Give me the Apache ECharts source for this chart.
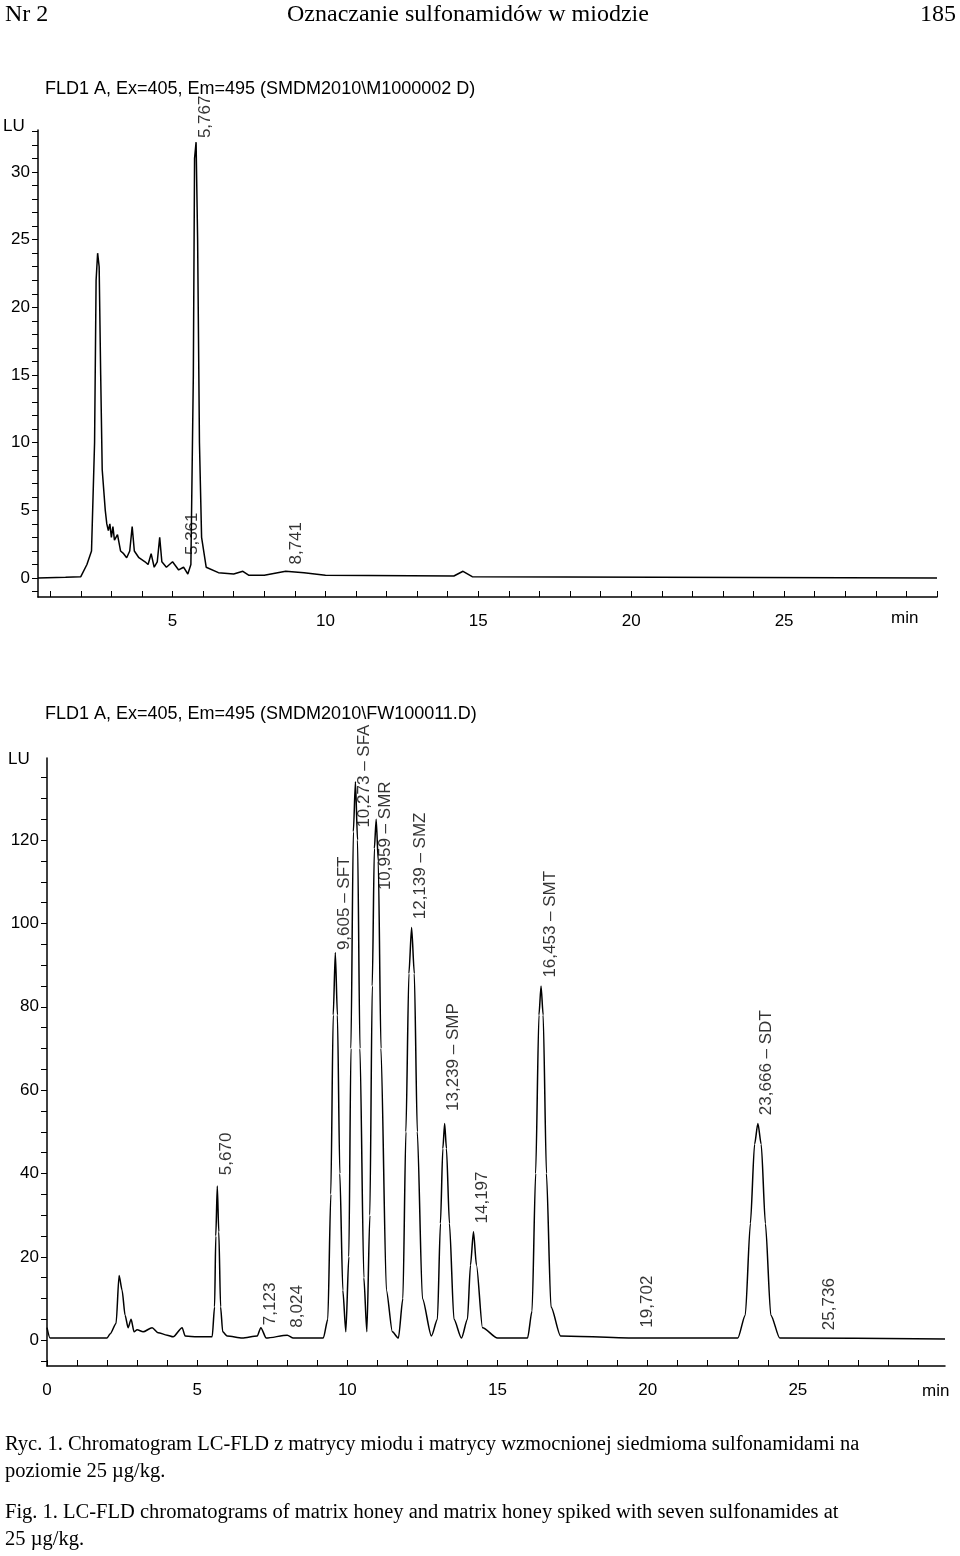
<!DOCTYPE html>
<html><head><meta charset="utf-8">
<script src="https://cdn.jsdelivr.net/npm/echarts@6/dist/echarts.min.js"></script>
<style>body{margin:0;background:#fff}#c{width:960px;height:1556px}</style>
</head><body><div id="c"></div>
<script>
// Top chromatogram: matrix honey [time min, LU]
const trace1 = [[0.6,0],[1.5,0.05],[2.0,0.1],[2.2,1],[2.35,2],[2.45,10],[2.5,22],[2.55,24],[2.6,23],[2.65,15],[2.7,8],[2.8,5],[2.85,4],[2.9,3.5],[2.95,4],[3.0,3],[3.05,3.8],[3.1,2.8],[3.2,3.2],[3.3,2],[3.4,1.8],[3.5,1.5],[3.6,2],[3.68,3.8],[3.75,2],[3.9,1.5],[4.1,1.2],[4.2,1],[4.3,1.8],[4.4,0.8],[4.5,1.2],[4.58,3],[4.65,1.2],[4.8,0.8],[5.0,1.2],[5.2,0.6],[5.36,0.8],[5.5,0.3],[5.6,1],[5.68,15],[5.72,31],[5.77,32.2],[5.82,25],[5.88,10],[5.95,3],[6.1,0.8],[6.5,0.4],[7.0,0.3],[7.3,0.5],[7.5,0.2],[8.0,0.2],[8.7,0.5],[9.3,0.4],[10,0.2],[14.2,0.15],[14.5,0.5],[14.8,0.1],[30,0]];
const labels1 = ['5,361','5,767','8,741'];
const labelT1 = [5.361,5.767,8.741];
const labelY1 = [1.7,32.5,1.0];
// Bottom chromatogram: spiked honey
const trace2 = [[0,3],[0.1,0.5],[2,0.5],[2.1,1.5],[2.3,4],[2.4,15.5],[2.5,12],[2.6,6],[2.7,3],[2.8,5],[2.9,2],[3.0,2.5],[3.2,2],[3.5,3],[3.7,1.8],[4.0,1.2],[4.2,0.8],[4.5,3],[4.6,1],[5.0,0.8],[5.5,0.8],[5.58,8],[5.62,25],[5.67,37],[5.72,26],[5.78,8],[5.85,2],[6.0,1],[6.5,0.5],[7.0,1],[7.12,3],[7.3,0.5],[8.0,1.2],[8.2,0.5],[9.2,0.5],[9.35,5],[9.45,35],[9.53,78],[9.6,93],[9.67,78],[9.75,40],[9.85,12],[9.95,2],[10.05,20],[10.12,70],[10.2,122],[10.27,134],[10.34,120],[10.42,70],[10.55,15],[10.65,2],[10.75,30],[10.83,85],[10.9,118],[10.96,125],[11.03,115],[11.12,70],[11.3,12],[11.5,2],[11.7,0.5],[11.85,10],[11.95,50],[12.05,88],[12.14,99],[12.23,88],[12.33,50],[12.5,10],[12.8,1],[13.0,5],[13.1,28],[13.18,46],[13.24,52],[13.3,46],[13.4,28],[13.55,5],[13.8,0.5],[14.0,5],[14.1,18],[14.2,26],[14.3,18],[14.5,3],[15.0,0.5],[16.0,0.5],[16.15,7],[16.27,40],[16.38,78],[16.45,85],[16.52,78],[16.63,40],[16.78,8],[17.1,1],[19.7,0.5],[23.0,0.5],[23.25,6],[23.42,28],[23.56,47],[23.67,52],[23.78,47],[23.92,28],[24.1,6],[24.4,0.5],[29.9,0.3]];
const labels2 = ['5,670','7,123','8,024','9,605 – SFT','10,273 – SFA','10,959 – SMR','12,139 – SMZ','13,239 – SMP','14,197','16,453 – SMT','19,702','23,666 – SDT','25,736'];
const labelT2 = [5.67,7.123,8.024,9.605,10.273,10.959,12.139,13.239,14.197,16.453,19.702,23.666,25.736];
const labelY2 = [39.6,3.6,3,93.6,123,108,101,55,28,87,3,54,2.4];
const xTicks1 = [1,2,3,4,5,6,7,8,9,10,11,12,13,14,15,16,17,18,19,20,21,22,23,24,25,26,27,28,29,30];
const xLabels1 = [5,10,15,20,25];
const yTicks1 = [-1,0,1,2,3,4,5,6,7,8,9,10,11,12,13,14,15,16,17,18,19,20,21,22,23,24,25,26,27,28,29,30,31,32,33];
const yLabels1 = [0,5,10,15,20,25,30];
const xTicks2 = [0,1,2,3,4,5,6,7,8,9,10,11,12,13,14,15,16,17,18,19,20,21,22,23,24,25,26,27,28,29];
const xLabels2 = [0,5,10,15,20,25];
const yTicks2 = [-5,0,5,10,15,20,25,30,35,40,45,50,55,60,65,70,75,80,85,90,95,100,105,110,115,120,125,130,135];
const yLabels2 = [0,20,40,60,80,100,120];

const F = 'Liberation Sans, Arial, sans-serif';
const S = 'Liberation Serif, Times New Roman, serif';
function xAx(gi,min,max,ticks,labs){return {gridIndex:gi,type:'value',min:min,max:max,
  axisLine:{onZero:false,lineStyle:{color:'#000',width:1.5}},splitLine:{show:false},
  axisTick:{inside:true,length:6,lineStyle:{color:'#000'},customValues:ticks},
  axisLabel:{color:'#000',fontFamily:F,fontSize:17,margin:16,customValues:labs}};}
function yAx(gi,min,max,ticks,labs){return {gridIndex:gi,type:'value',min:min,max:max,
  axisLine:{show:true,lineStyle:{color:'#000',width:1.5}},splitLine:{show:false},
  axisTick:{length:6,lineStyle:{color:'#000'},customValues:ticks},
  axisLabel:{color:'#000',fontFamily:F,fontSize:17,margin:8,customValues:labs}};}
function lab(names,ts,ys,gi){return {type:'scatter',xAxisIndex:gi,yAxisIndex:gi,symbolSize:0,silent:true,
  data:ts.map((t,i)=>({value:[t,ys[i]],name:names[i]})),
  label:{show:true,formatter:p=>p.name,rotate:90,position:[9,0],align:'left',verticalAlign:'middle',
  color:'#000',fontFamily:F,fontSize:17}};}
const chart = echarts.init(document.getElementById('c'),null,{renderer:'canvas'});
chart.setOption({
  animation:false,
  grid:[{left:38,right:23,top:130,height:467},{left:47,right:15,top:758,height:608}],
  xAxis:[xAx(0,0.6,30,xTicks1,xLabels1),xAx(1,0,29.9,xTicks2,xLabels2)],
  yAxis:[yAx(0,-1.4,33.1,yTicks1,yLabels1),yAx(1,-6.2,139.7,yTicks2,yLabels2)],
  series:[
    {type:'line',xAxisIndex:0,yAxisIndex:0,data:trace1,showSymbol:false,lineStyle:{color:'#000',width:1.5}},
    {type:'line',xAxisIndex:1,yAxisIndex:1,data:trace2,showSymbol:false,smooth:0.25,smoothMonotone:'x',lineStyle:{color:'#000',width:1.5}},
    lab(labels1,labelT1,labelY1,0),lab(labels2,labelT2,labelY2,1)
  ],
  graphic:[
    {type:'text',left:5,top:3,style:{text:'Nr 2',font:'24px '+S,fill:'#000'}},
    {type:'text',left:287,top:3,style:{text:'Oznaczanie sulfonamidów w miodzie',font:'24px '+S,fill:'#000'}},
    {type:'text',right:4,top:3,style:{text:'185',font:'24px '+S,fill:'#000'}},
    {type:'text',left:45,top:80,style:{text:'FLD1 A, Ex=405, Em=495 (SMDM2010\\M1000002 D)',font:'18px '+F,fill:'#000'}},
    {type:'text',left:3,top:118,style:{text:'LU',font:'17px '+F,fill:'#000'}},
    {type:'text',left:891,top:610,style:{text:'min',font:'17px '+F,fill:'#000'}},
    {type:'text',left:45,top:705,style:{text:'FLD1 A, Ex=405, Em=495 (SMDM2010\\FW100011.D)',font:'18px '+F,fill:'#000'}},
    {type:'text',left:8,top:751,style:{text:'LU',font:'17px '+F,fill:'#000'}},
    {type:'text',left:922,top:1383,style:{text:'min',font:'17px '+F,fill:'#000'}},
    {type:'text',left:5,top:1434,style:{text:'Ryc. 1. Chromatogram LC-FLD z matrycy miodu i matrycy wzmocnionej siedmioma sulfonamidami na',font:'20.5px '+S,fill:'#000'}},
    {type:'text',left:5,top:1461,style:{text:'poziomie 25 µg/kg.',font:'20.5px '+S,fill:'#000'}},
    {type:'text',left:5,top:1502,style:{text:'Fig. 1. LC-FLD chromatograms of matrix honey and matrix honey spiked with seven sulfonamides at',font:'20.5px '+S,fill:'#000'}},
    {type:'text',left:5,top:1529,style:{text:'25 µg/kg.',font:'20.5px '+S,fill:'#000'}}
  ]
});
</script></body></html>
